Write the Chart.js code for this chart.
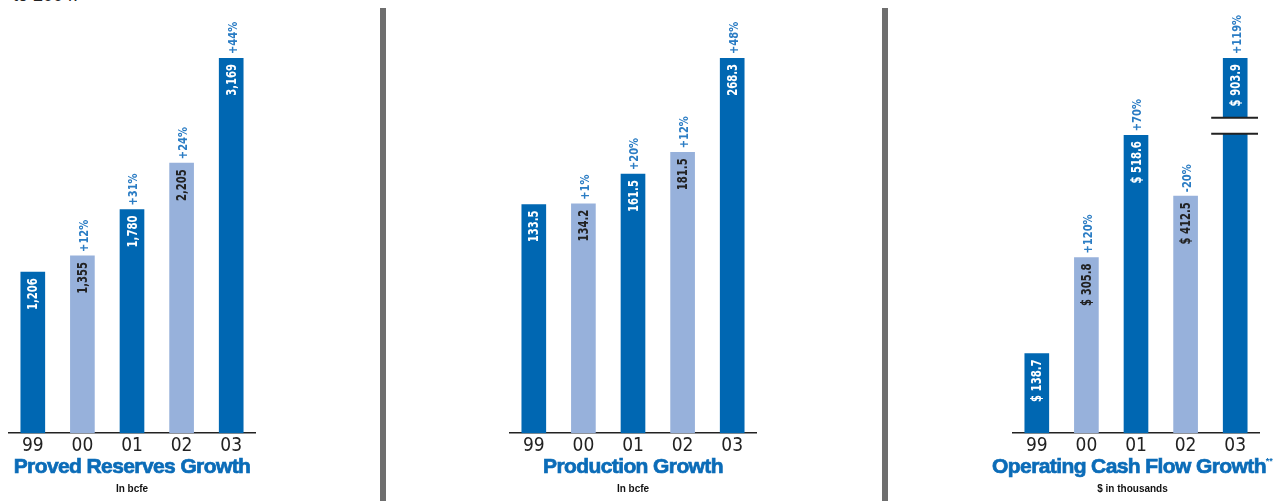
<!DOCTYPE html>
<html>
<head>
<meta charset="utf-8">
<script src="https://cdn.jsdelivr.net/npm/chart.js@4.4.1/dist/chart.umd.min.js"></script>
<style>
  html, body { margin: 0; padding: 0; background: #fff; }
  body { width: 1280px; height: 501px; position: relative; overflow: hidden; font-family: 'Liberation Sans', Arial, sans-serif; }
  .panel { position: absolute; top: 0; height: 458px; }
  .sep { position: absolute; top: 8px; width: 6px; height: 493px; background: #6e6e6e; }
  .title { position: absolute; top: 454px; text-align: center; color: #0b6cb8; font-weight: bold; font-size: 21px; letter-spacing: -0.6px; white-space: nowrap; -webkit-text-stroke: 0.7px #0b6cb8; }
  .title sup { font-size: 9px; letter-spacing: 0; vertical-align: 9px; -webkit-text-stroke: 0; }
  .sub { position: absolute; top: 483px; text-align: center; color: #111; font-weight: bold; font-size: 10px; }
  .cut { position: absolute; top: -15px; left: 13px; font-size: 18px; color: #222; }
</style>
</head>
<body>
<div class="cut">to 2004.</div>

<div class="panel" style="left:8px;width:248px"><canvas id="reserves"></canvas></div>
<div class="sep" style="left:380px"></div>
<div class="panel" style="left:509px;width:248px"><canvas id="production"></canvas></div>
<div class="sep" style="left:882px"></div>
<div class="panel" style="left:1012px;width:248px"><canvas id="cashflow"></canvas></div>

<div class="title" style="left:0;width:264px">Proved Reserves Growth</div>
<div class="sub" style="left:0;width:264px">In bcfe</div>
<div class="title" style="left:501px;width:264px">Production Growth</div>
<div class="sub" style="left:501px;width:264px">In bcfe</div>
<div class="title" style="left:985px;width:295px">Operating Cash Flow Growth<sup>**</sup></div>
<div class="sub" style="left:985px;width:295px">$ in thousands</div>

<script>
// years on the x axis
const years = ['99', '00', '01', '02', '03'];

// proved reserves, bcfe
const reserves = [1206, 1355, 1780, 2205, 3169];
const reservesText = ['1,206', '1,355', '1,780', '2,205', '3,169'];
const reservesPct = ['', '+12%', '+31%', '+24%', '+44%'];

// production, bcfe
const production = [133.5, 134.2, 161.5, 181.5, 268.3];
const productionText = ['133.5', '134.2', '161.5', '181.5', '268.3'];
const productionPct = ['', '+1%', '+20%', '+12%', '+48%'];

// operating cash flow, $ thousands
const cashflow = [138.7, 305.8, 518.6, 412.5, 903.9];
const cashflowText = ['$ 138.7', '$ 305.8', '$ 518.6', '$ 412.5', '$ 903.9'];
const cashflowPct = ['', '+120%', '+70%', '-20%', '+119%'];

const darkBlue = '#0067b2';
const lightBlue = '#97b1db';
const barColors = [darkBlue, lightBlue, darkBlue, lightBlue, darkBlue];
const labelColors = ['#fff', '#222', '#fff', '#222', '#fff'];
const pctColor = '#2a7cc4';
const narrow = "'DejaVu Sans Condensed', 'Liberation Sans Narrow', sans-serif";

// writes the value inside the bar and the growth above it, both rotated
const barLabels = {
  id: 'barLabels',
  afterDatasetsDraw(chart, args, opts) {
    const ctx = chart.ctx;
    const area = chart.chartArea;
    chart.getDatasetMeta(0).data.forEach((bar, i) => {
      const top = Math.max(bar.y, area.top);
      ctx.save();
      ctx.translate(bar.x, top + 6);
      ctx.rotate(-Math.PI / 2);
      ctx.scale(0.8, 1);
      ctx.font = 'bold 14px ' + narrow;
      ctx.fillStyle = labelColors[i];
      ctx.textAlign = 'right';
      ctx.textBaseline = 'middle';
      ctx.fillText(opts.text[i], 0, 1);
      ctx.restore();

      if (opts.pct[i]) {
        ctx.save();
        ctx.translate(bar.x + 1, top - 4);
        ctx.rotate(-Math.PI / 2);
        ctx.scale(0.85, 1);
        ctx.font = 'bold 13px ' + narrow;
        ctx.fillStyle = pctColor;
        ctx.textAlign = 'left';
        ctx.textBaseline = 'middle';
        ctx.fillText(opts.pct[i], 0, 1);
        ctx.restore();
      }
    });
  }
};

// white gap with two rules across the cut bar
const axisBreak = {
  id: 'axisBreak',
  afterDraw(chart, args, opts) {
    if (!opts.from) return;
    const ctx = chart.ctx;
    const y1 = chart.scales.y.getPixelForValue(opts.to);
    const y2 = chart.scales.y.getPixelForValue(opts.from);
    const bar = chart.getDatasetMeta(0).data[opts.index];
    const x1 = bar.x - 24;
    const x2 = chart.chartArea.right - 2;
    ctx.save();
    ctx.fillStyle = '#fff';
    ctx.fillRect(x1, y1, x2 - x1, y2 - y1);
    ctx.strokeStyle = '#222';
    ctx.lineWidth = 2;
    ctx.beginPath();
    ctx.moveTo(x1, y1); ctx.lineTo(x2, y1);
    ctx.moveTo(x1, y2); ctx.lineTo(x2, y2);
    ctx.stroke();
    ctx.restore();
  }
};

function makeChart(id, values, text, pct, yMin, yMax, brk) {
  const ctx = document.getElementById(id).getContext('2d');
  return new Chart(ctx, {
    type: 'bar',
    data: {
      labels: years,
      datasets: [{
        data: values,
        base: yMin,
        backgroundColor: barColors,
        barThickness: 24,
        borderWidth: 0
      }]
    },
    options: {
      responsive: true,
      maintainAspectRatio: false,
      animation: false,
      layout: { padding: { top: 58, left: 0, right: 0, bottom: 0 } },
      plugins: {
        legend: { display: false },
        tooltip: { enabled: false },
        barLabels: { text: text, pct: pct },
        axisBreak: brk || {}
      },
      scales: {
        x: {
          grid: { display: false, drawTicks: false },
          border: { display: true, color: '#222', width: 1.5 },
          ticks: { color: '#222', padding: 1, font: { family: narrow, size: 19 } }
        },
        y: {
          display: false,
          min: yMin,
          max: yMax
        }
      }
    },
    plugins: [barLabels, axisBreak]
  });
}

makeChart('reserves', reserves, reservesText, reservesPct, -270, 3169);
makeChart('production', production, productionText, productionPct, -77, 268.3);
makeChart('cashflow', cashflow, cashflowText, cashflowPct, 0, 653, { from: 521, to: 549, index: 4 });
</script>
</body>
</html>
